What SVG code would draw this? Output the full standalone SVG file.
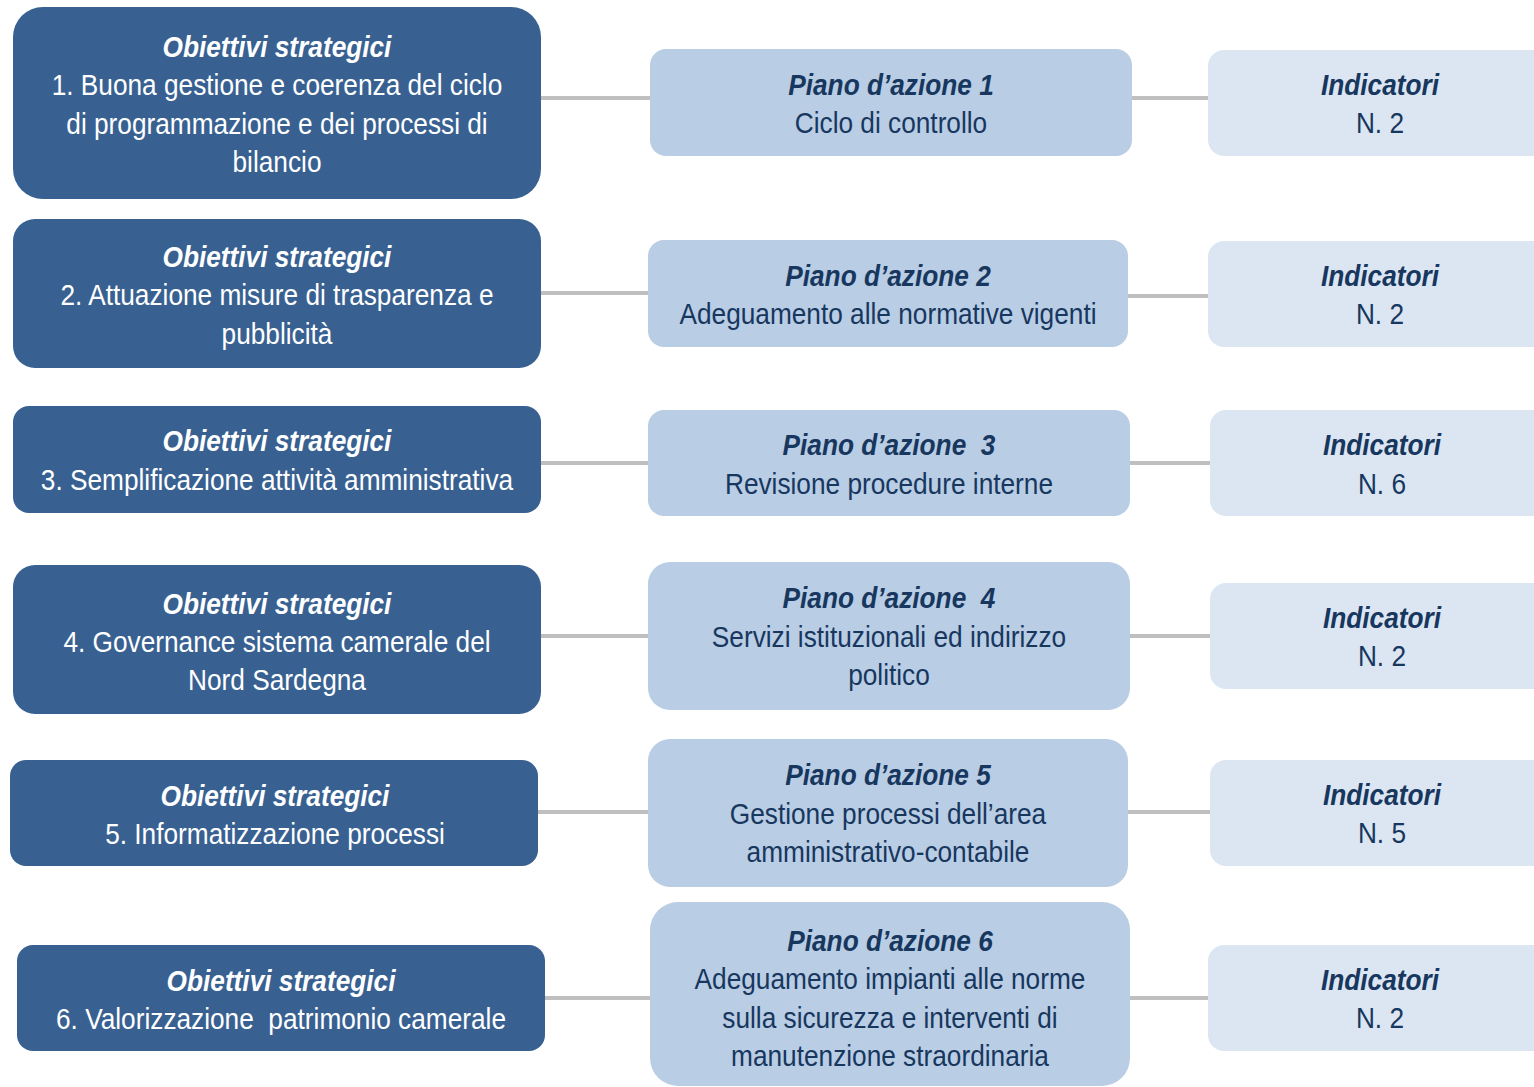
<svg xmlns="http://www.w3.org/2000/svg" width="1534" height="1087" viewBox="0 0 1534 1087">
  <style>
    text { font-family: "Liberation Sans", Arial, sans-serif; font-size: 29px; text-anchor: middle; white-space: pre; }
    .t { font-weight: bold; font-style: italic; }
    .obj rect { fill: #386192; }
    .obj text { fill: #ffffff; }
    .plan rect { fill: #b9cde5; }
    .ind rect { fill: #dce6f2; }
    .plan text, .ind text { fill: #17375e; }
    .conn line { stroke: #bfbfbf; stroke-width: 4; }
  </style>
  <rect width="1534" height="1087" fill="#ffffff"/>

  <g id="connectors" class="conn">
    <line x1="541" y1="98" x2="650" y2="98"/>
    <line x1="1132" y1="98" x2="1208" y2="98"/>
    <line x1="541" y1="293" x2="648" y2="293"/>
    <line x1="1128" y1="296" x2="1208" y2="296"/>
    <line x1="541" y1="463" x2="648" y2="463"/>
    <line x1="1130" y1="463" x2="1210" y2="463"/>
    <line x1="541" y1="636" x2="648" y2="636"/>
    <line x1="1130" y1="636" x2="1210" y2="636"/>
    <line x1="538" y1="812" x2="648" y2="812"/>
    <line x1="1128" y1="812" x2="1210" y2="812"/>
    <line x1="545" y1="998" x2="650" y2="998"/>
    <line x1="1130" y1="998" x2="1208" y2="998"/>
  </g>

  <!-- strategic objectives (text condensed horizontally about the box centre) -->
  <g id="obj1" class="obj">
    <rect x="13" y="7" width="528" height="192" rx="30"/>
    <g transform="matrix(0.905 0 0 1 26.315 0)">
      <text x="277" y="57" class="t">Obiettivi strategici</text>
      <text x="277" y="95">1. Buona gestione e coerenza del ciclo</text>
      <text x="277" y="134">di programmazione e dei processi di</text>
      <text x="277" y="172">bilancio</text>
    </g>
  </g>
  <g id="obj2" class="obj">
    <rect x="13" y="219" width="528" height="149" rx="22"/>
    <g transform="matrix(0.905 0 0 1 26.315 0)">
      <text x="277" y="267" class="t">Obiettivi strategici</text>
      <text x="277" y="305">2. Attuazione misure di trasparenza e</text>
      <text x="277" y="344">pubblicità</text>
    </g>
  </g>
  <g id="obj3" class="obj">
    <rect x="13" y="406" width="528" height="107" rx="16"/>
    <g transform="matrix(0.905 0 0 1 26.315 0)">
      <text x="277" y="451" class="t">Obiettivi strategici</text>
      <text x="277" y="490">3. Semplificazione attività amministrativa</text>
    </g>
  </g>
  <g id="obj4" class="obj">
    <rect x="13" y="565" width="528" height="149" rx="22"/>
    <g transform="matrix(0.905 0 0 1 26.315 0)">
      <text x="277" y="614" class="t">Obiettivi strategici</text>
      <text x="277" y="652">4. Governance sistema camerale del</text>
      <text x="277" y="690">Nord Sardegna</text>
    </g>
  </g>
  <g id="obj5" class="obj">
    <rect x="10" y="760" width="528" height="106" rx="16"/>
    <g transform="matrix(0.905 0 0 1 26.125 0)">
      <text x="275" y="806" class="t">Obiettivi strategici</text>
      <text x="275" y="844">5. Informatizzazione processi</text>
    </g>
  </g>
  <g id="obj6" class="obj">
    <rect x="17" y="945" width="528" height="106" rx="16"/>
    <g transform="matrix(0.905 0 0 1 26.695 0)">
      <text x="281" y="991" class="t">Obiettivi strategici</text>
      <text x="281" y="1029">6. Valorizzazione  patrimonio camerale</text>
    </g>
  </g>

  <!-- action plans -->
  <g id="plan1" class="plan">
    <rect x="650" y="49" width="482" height="107" rx="16"/>
    <g transform="matrix(0.905 0 0 1 84.645 0)">
      <text x="891" y="95" class="t">Piano d’azione 1</text>
      <text x="891" y="133">Ciclo di controllo</text>
    </g>
  </g>
  <g id="plan2" class="plan">
    <rect x="648" y="240" width="480" height="107" rx="16"/>
    <g transform="matrix(0.905 0 0 1 84.36 0)">
      <text x="888" y="286" class="t">Piano d’azione 2</text>
      <text x="888" y="324">Adeguamento alle normative vigenti</text>
    </g>
  </g>
  <g id="plan3" class="plan">
    <rect x="648" y="410" width="482" height="106" rx="16"/>
    <g transform="matrix(0.905 0 0 1 84.455 0)">
      <text x="889" y="455" class="t">Piano d’azione  3</text>
      <text x="889" y="494">Revisione procedure interne</text>
    </g>
  </g>
  <g id="plan4" class="plan">
    <rect x="648" y="562" width="482" height="148" rx="22"/>
    <g transform="matrix(0.905 0 0 1 84.455 0)">
      <text x="889" y="608" class="t">Piano d’azione  4</text>
      <text x="889" y="647">Servizi istituzionali ed indirizzo</text>
      <text x="889" y="685">politico</text>
    </g>
  </g>
  <g id="plan5" class="plan">
    <rect x="648" y="739" width="480" height="148" rx="22"/>
    <g transform="matrix(0.905 0 0 1 84.36 0)">
      <text x="888" y="785" class="t">Piano d’azione 5</text>
      <text x="888" y="824">Gestione processi dell’area</text>
      <text x="888" y="862">amministrativo-contabile</text>
    </g>
  </g>
  <g id="plan6" class="plan">
    <rect x="650" y="902" width="480" height="184" rx="28"/>
    <g transform="matrix(0.905 0 0 1 84.55 0)">
      <text x="890" y="951" class="t">Piano d’azione 6</text>
      <text x="890" y="989">Adeguamento impianti alle norme</text>
      <text x="890" y="1028">sulla sicurezza e interventi di</text>
      <text x="890" y="1066">manutenzione straordinaria</text>
    </g>
  </g>

  <!-- indicators (boxes run off the right edge) -->
  <g id="ind1" class="ind">
    <rect x="1208" y="50" width="346" height="106" rx="16"/>
    <g transform="matrix(0.905 0 0 1 131.1 0)">
      <text x="1380" y="95" class="t">Indicatori</text>
      <text x="1380" y="133">N. 2</text>
    </g>
  </g>
  <g id="ind2" class="ind">
    <rect x="1208" y="241" width="346" height="106" rx="16"/>
    <g transform="matrix(0.905 0 0 1 131.1 0)">
      <text x="1380" y="286" class="t">Indicatori</text>
      <text x="1380" y="324">N. 2</text>
    </g>
  </g>
  <g id="ind3" class="ind">
    <rect x="1210" y="410" width="344" height="106" rx="16"/>
    <g transform="matrix(0.905 0 0 1 131.29 0)">
      <text x="1382" y="455" class="t">Indicatori</text>
      <text x="1382" y="494">N. 6</text>
    </g>
  </g>
  <g id="ind4" class="ind">
    <rect x="1210" y="583" width="344" height="106" rx="16"/>
    <g transform="matrix(0.905 0 0 1 131.29 0)">
      <text x="1382" y="628" class="t">Indicatori</text>
      <text x="1382" y="666">N. 2</text>
    </g>
  </g>
  <g id="ind5" class="ind">
    <rect x="1210" y="760" width="344" height="106" rx="16"/>
    <g transform="matrix(0.905 0 0 1 131.29 0)">
      <text x="1382" y="805" class="t">Indicatori</text>
      <text x="1382" y="843">N. 5</text>
    </g>
  </g>
  <g id="ind6" class="ind">
    <rect x="1208" y="945" width="346" height="106" rx="16"/>
    <g transform="matrix(0.905 0 0 1 131.1 0)">
      <text x="1380" y="990" class="t">Indicatori</text>
      <text x="1380" y="1028">N. 2</text>
    </g>
  </g>
</svg>
